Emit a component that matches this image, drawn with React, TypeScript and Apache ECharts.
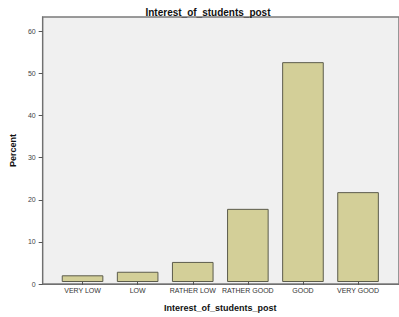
import React, { useEffect, useRef } from "react";
import * as echarts from "echarts";

const categories = ["VERY LOW", "LOW", "RATHER LOW", "RATHER GOOD", "GOOD", "VERY GOOD"];
const percents = [1.6, 2.45, 4.8, 17.5, 52.6, 21.5];
const yTicks = [0, 10, 20, 30, 40, 50, 60];
const titleText = "Interest_of_students_post";
const xName = "Interest_of_students_post";
const yName = "Percent";

const FONT = "'Liberation Sans', Arial, sans-serif";
const Y_MAX = 63.4;

export default function App() {
  const ref = useRef<HTMLDivElement>(null);
  useEffect(() => {
    if (!ref.current) return;
    const chart = echarts.init(ref.current, null, { renderer: "svg" });
    chart.setOption({
      animation: false,
      backgroundColor: "#ffffff",
      title: {
        text: titleText,
        left: 203,
        top: 2,
        textAlign: "center",
        textStyle: { fontFamily: FONT, fontSize: 10, fontWeight: "bold", color: "#111" },
      },
      grid: [
        {
          left: 36,
          right: -6,
          top: 17,
          bottom: 33,
          show: true,
          backgroundColor: "#f0f0f0",
          borderColor: "#7a7a7a",
          borderWidth: 1.5,
        },
        { left: 55, width: 330.6, top: 17, bottom: 33 },
      ],
      xAxis: [
        {
          gridIndex: 0,
          type: "value",
          min: 0,
          max: 1,
          axisLine: { show: true, lineStyle: { color: "#707070", width: 1 } },
          axisTick: { show: false },
          axisLabel: { show: false },
          splitLine: { show: false },
        },
        {
          gridIndex: 1,
          type: "category",
          data: categories,
          name: xName,
          nameLocation: "middle",
          nameGap: 21,
          nameTextStyle: { fontFamily: FONT, fontSize: 9, fontWeight: "bold", color: "#111" },
          axisLine: { show: false },
          axisTick: { show: true, alignWithLabel: true, length: 3, lineStyle: { color: "#555" } },
          axisLabel: { fontFamily: FONT, fontSize: 7, color: "#333", margin: 5, interval: 0 },
          splitLine: { show: false },
        },
      ],
      yAxis: [
        {
          gridIndex: 0,
          type: "value",
          min: 0,
          max: Y_MAX,
          name: yName,
          nameLocation: "middle",
          nameGap: 20,
          nameTextStyle: { fontFamily: FONT, fontSize: 9, fontWeight: "bold", color: "#111" },
          axisLine: { show: true, lineStyle: { color: "#707070", width: 1 } },
          axisTick: { show: true, length: 4, customValues: yTicks, lineStyle: { color: "#555" } },
          axisLabel: { fontFamily: FONT, fontSize: 7, color: "#444", margin: 7, customValues: yTicks },
          splitLine: { show: false },
        },
        {
          gridIndex: 1,
          type: "value",
          min: 0,
          max: Y_MAX,
          show: false,
          splitLine: { show: false },
        },
      ],
      series: [
        {
          type: "bar",
          xAxisIndex: 1,
          yAxisIndex: 1,
          data: percents,
          barWidth: "75.5%",
          itemStyle: { color: "#d3cf98", borderColor: "#5c5c4c", borderWidth: 1 },
        },
      ],
    });
    return () => chart.dispose();
  }, []);
  return (
    <div
      ref={ref}
      style={{ position: "fixed", left: 0, top: 0, width: 399, height: 317 }}
    />
  );
}
